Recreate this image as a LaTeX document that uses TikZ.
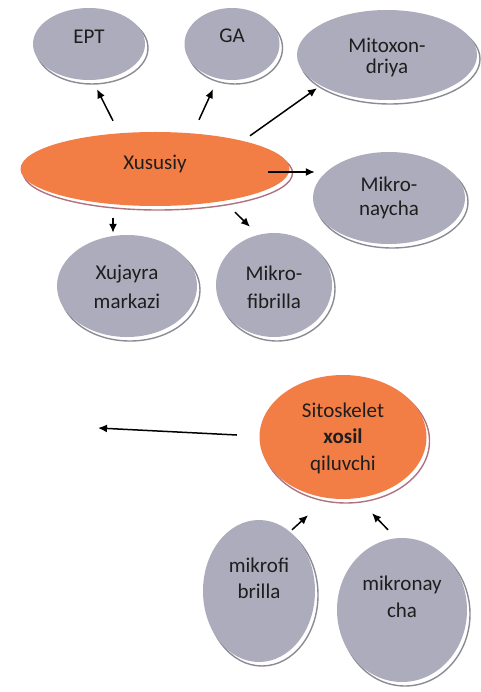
\documentclass[tikz,border=0pt]{standalone}
\usepackage{fontspec}
\setmainfont{Carlito}
\usetikzlibrary{shapes.geometric,arrows.meta,shadows}

\definecolor{bubgray}{HTML}{ADACBC}
\definecolor{bubedge}{HTML}{8C8B94}
\definecolor{hotfill}{HTML}{F27D45}
\definecolor{hotedge}{HTML}{B0727F}
\definecolor{ink}{HTML}{1E1E1E}

% label text whose first baseline sits #1 above the bubble centre
\newcommand{\btext}[2]{\raisebox{#1}[0pt][0pt]{\begin{tabular}[t]{@{}c@{}}#2\end{tabular}}}

\tikzset{
  bubble/.style 2 args={ellipse, inner sep=0pt, minimum width=#1, minimum height=#2,
    font=\fontsize{21}{27}\selectfont, text=ink},
  graybub/.style={fill=bubgray, general shadow={fill=white, draw=bubedge,
    line width=1.4pt, shadow xshift=3pt, shadow yshift=-4pt}},
  hotbub/.style={fill=hotfill, general shadow={fill=white, draw=hotedge,
    line width=1.4pt, shadow xshift=3pt, shadow yshift=-4pt}},
  arr/.style={-{Latex[length=9pt,width=8pt]}, line width=1.5pt, draw=black},
}

\begin{document}
\begin{tikzpicture}[x=1pt,y=1pt]
  \useasboundingbox (0,0) rectangle (480,-692);
  \fill[white] (0,0) rectangle (480,-692);

  % upper cluster
  \node[bubble={112pt}{72pt}, graybub] (ept) at (89,-44) {\btext{0pt}{EPT}};
  \node[bubble={95pt}{72pt}, graybub] (ga) at (232,-44) {\btext{1pt}{GA}};
  \node[bubble={180pt}{90pt}, graybub] (mito) at (387,-55) {\btext{2pt}{Mitoxon-\\[-6pt]driya}};
  \node[bubble={269pt}{74pt}, hotbub] (xus) at (155,-169) {\btext{-1pt}{Xususiy}};
  \node[bubble={152pt}{92pt}, graybub] (mnay) at (389,-198) {\btext{6pt}{Mikro-\\[-3pt]naycha}};
  \node[bubble={140pt}{102pt}, graybub] (xuj) at (127,-286) {\btext{6pt}{Xujayra\\[1pt]markazi}};
  \node[bubble={116pt}{104pt}, graybub] (mfib) at (274,-285) {\btext{5pt}{Mikro-\\[1pt]fibrilla}};

  % lower cluster
  \node[bubble={167pt}{124pt}, hotbub] (sit) at (343,-437) {\btext{20pt}{Sitoskelet\\[-0.5pt]\textbf{xosil}\\[-0.5pt]qiluvchi}};
  \node[bubble={112pt}{142pt}, graybub] (mfb) at (259,-591) {\btext{19pt}{mikrofi\\[-1pt]brilla}};
  \node[bubble={130pt}{144pt}, graybub] (mnc) at (402,-610) {\btext{20pt}{mikronay\\cha}};
  \coordinate (leftend) at (98,-428);

  % connectors
  \draw[arr] ([shift={(-42,11)}]xus.north) -- ([shift={(8,-9)}]ept.south);
  \draw[arr] ([shift={(44,12)}]xus.north) -- ([shift={(-19,-9)}]ga.south);
  \draw[arr] ([shift={(95,-4)}]xus.north) -- ([shift={(-70,12)}]mito.south);
  \draw[arr] ([shift={(-21.5,-3)}]xus.east) -- ([shift={(2,26)}]mnay.west);
  \draw[arr] ([shift={(-42,-12)}]xus.south) -- ([shift={(-14,2)}]xuj.north);
  \draw[arr] ([shift={(80,-6)}]xus.south) -- ([shift={(-24,6)}]mfib.north);
  \draw[arr] ([shift={(-22.5,2)}]sit.west) -- (leftend);
  \draw[arr] ([shift={(33,-10)}]mfb.north) -- ([shift={(-35,-16)}]sit.south);
  \draw[arr] ([shift={(-14,8)}]mnc.north) -- ([shift={(29,-14)}]sit.south);
\end{tikzpicture}
\end{document}
